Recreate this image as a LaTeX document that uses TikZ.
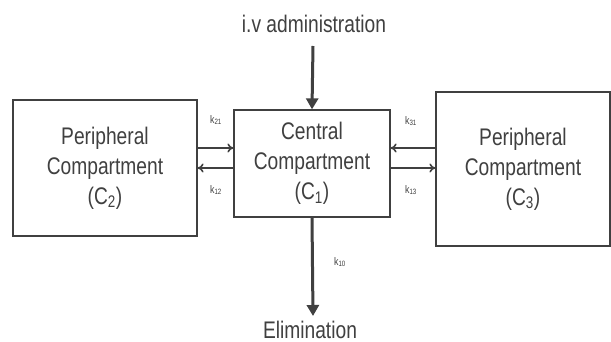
\documentclass[tikz,border=0pt]{standalone}
\usepackage{fontspec}
\setmainfont{Liberation Sans}[FakeStretch=0.8]
\usetikzlibrary{arrows.meta}
\definecolor{ink}{HTML}{404040}
\begin{document}
\begin{tikzpicture}[x=1pt,y=-1pt,
  comp/.style={draw=ink,line width=1.3pt,text=ink,align=center,inner sep=0pt,
    font=\fontsize{24}{30}\selectfont},
  lbl/.style={text=ink,font=\fontsize{24}{30}\selectfont,inner sep=0pt},
  klbl/.style={text=ink,font=\fontsize{11}{12}\selectfont,inner sep=0pt},
  flow/.style={draw=ink,line width=1.6pt,-{To[length=6pt,width=9pt]}},
  main/.style={draw=ink,line width=3pt,-{Triangle[length=11pt,width=12pt]}}]
\fill[white] (0,0) rectangle (611,342);
\useasboundingbox (0,0) rectangle (611,342);
\node[comp,minimum width=184pt,minimum height=136pt] (c2) at (105,168)
  {Peripheral\\Compartment\\(C\textsubscript{2})};
\node[comp,minimum width=156pt,minimum height=107pt] (c1) at (312,163.5)
  {Central\\Compartment\\(C\textsubscript{1})};
\node[comp,minimum width=174pt,minimum height=154pt] (c3) at (523,169)
  {Peripheral\\Compartment\\(C\textsubscript{3})};
\node[lbl,anchor=base] (iv) at (314,33) {i.v administration};
\node[lbl,anchor=base] (el) at (310,338) {Elimination};
\coordinate (ivend) at (313,46);
\coordinate (elend) at (313,316);
\draw[main] (ivend) -- (c1.north);
\draw[main] (c1.south) -- (elend);
\draw[flow] (c2.east |- 0,148) -- (c1.west |- 0,148);
\draw[flow] (c1.west |- 0,168) -- (c2.east |- 0,168);
\draw[flow] (c3.west |- 0,148) -- (c1.east |- 0,148);
\draw[flow] (c1.east |- 0,168) -- (c3.west |- 0,168);
\node[klbl] (k21) at (216,120) {k\textsubscript{21}};
\node[klbl] (k12) at (216,190) {k\textsubscript{12}};
\node[klbl] (k31) at (411,121) {k\textsubscript{31}};
\node[klbl] (k13) at (411,190) {k\textsubscript{13}};
\node[klbl] (k10) at (340,262) {k\textsubscript{10}};
\end{tikzpicture}
\end{document}
